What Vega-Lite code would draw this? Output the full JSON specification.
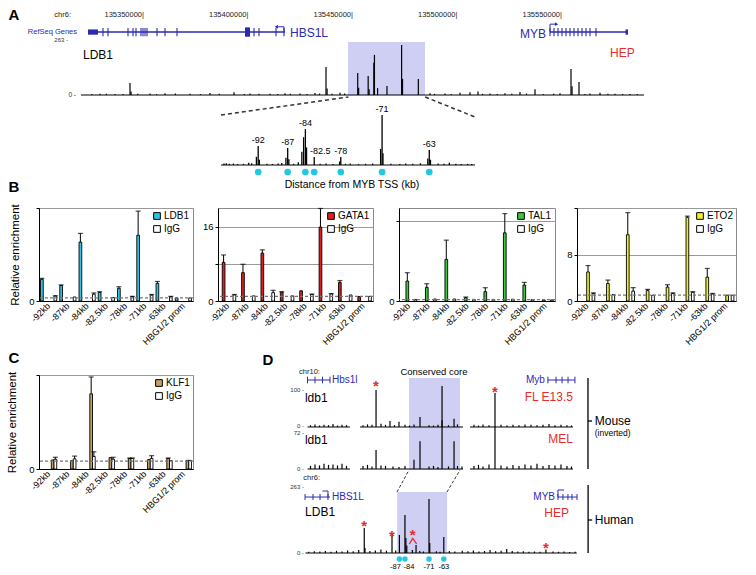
{
"$schema": "https://vega.github.io/schema/vega-lite/v6.json",
"background": "white",
"padding": 0,
"columns": 8,
"spacing": 0,
"bounds": "flush",
"align": "each",
"resolve": {"scale": {"color": "independent"}, "legend": {"color": "independent"}},
"config": {
 "font": "Liberation Sans",
 "view": {"stroke": "transparent"},
 "text": {"font": "Liberation Sans"},
 "scale": {"offsetBandPaddingInner": 0, "offsetBandPaddingOuter": 0}
},
"datasets": {
 "peaksA": [
  {"pos":135343301,"v":41},{"pos":135343800,"v":12},{"pos":135437082,"v":96},{"pos":135437600,"v":22},
  {"pos":135452258,"v":75},{"pos":135452700,"v":25},{"pos":135457258,"v":65},{"pos":135457700,"v":20},
  {"pos":135459958,"v":110},{"pos":135460258,"v":137},{"pos":135461758,"v":24},{"pos":135466258,"v":31},
  {"pos":135473258,"v":171},{"pos":135473700,"v":55},{"pos":135481258,"v":55},{"pos":135537081,"v":20},
  {"pos":135554306,"v":89},{"pos":135554800,"v":30},{"pos":135558134,"v":44},
  {"pos":135328947,"v":4},{"pos":135336124,"v":3},{"pos":135352871,"v":5},{"pos":135360048,"v":6},{"pos":135372010,"v":4},
  {"pos":135381579,"v":7},{"pos":135393062,"v":9},{"pos":135400718,"v":5},{"pos":135410287,"v":4},{"pos":135417464,"v":6},
  {"pos":135424641,"v":5},{"pos":135431818,"v":7},{"pos":135443780,"v":8},{"pos":135486842,"v":6},{"pos":135494019,"v":5},
  {"pos":135501196,"v":8},{"pos":135505981,"v":9},{"pos":135509809,"v":12},{"pos":135515550,"v":5},{"pos":135522727,"v":6},
  {"pos":135529904,"v":10},{"pos":135549043,"v":6},{"pos":135563397,"v":5},{"pos":135568182,"v":8},{"pos":135575359,"v":4},
  {"pos":135582536,"v":3},{"pos":135325000,"v":3},{"pos":135332000,"v":4},{"pos":135340000,"v":3},{"pos":135347000,"v":4},
  {"pos":135356000,"v":3},{"pos":135365000,"v":5},{"pos":135377000,"v":3},{"pos":135386000,"v":4},{"pos":135398000,"v":3},
  {"pos":135405000,"v":4},{"pos":135414000,"v":3},{"pos":135420000,"v":4},{"pos":135428000,"v":3},{"pos":135434000,"v":5},
  {"pos":135440000,"v":4},{"pos":135446000,"v":5},{"pos":135489000,"v":4},{"pos":135497000,"v":3},{"pos":135512000,"v":4},
  {"pos":135519000,"v":3},{"pos":135526000,"v":4},{"pos":135533000,"v":5},{"pos":135541000,"v":3},{"pos":135546000,"v":4},
  {"pos":135561000,"v":3},{"pos":135572000,"v":4},{"pos":135579000,"v":3},{"pos":135586000,"v":3}
 ],
 "ticksA": [{"pos":135350000,"lab":"135350000|"},{"pos":135400000,"lab":"135400000|"},{"pos":135450000,"lab":"135450000|"},{"pos":135500000,"lab":"135500000|"},{"pos":135550000,"lab":"135550000|"}],
 "peaksI": [
  {"kb":-92,"v":65,"lab":"-92"},{"kb":-87,"v":58,"lab":"-87"},{"kb":-84,"v":123,"lab":"-84"},{"kb":-82.5,"v":27,"lab":"-82.5"},
  {"kb":-78,"v":27,"lab":"-78"},{"kb":-71,"v":171,"lab":"-71"},{"kb":-63,"v":51,"lab":"-63"},
  {"kb":-92.3,"v":28},{"kb":-91.8,"v":18},{"kb":-87.3,"v":25},{"kb":-86.8,"v":20},{"kb":-84.3,"v":95},{"kb":-84.6,"v":45},
  {"kb":-83.8,"v":60},{"kb":-78.2,"v":12},{"kb":-71.25,"v":55},{"kb":-70.85,"v":40},{"kb":-63.25,"v":22},{"kb":-62.8,"v":18},
  {"kb":-97.8,"v":5},{"kb":-97.4,"v":6},{"kb":-96.9,"v":4},{"kb":-96.2,"v":5},{"kb":-95.5,"v":3},{"kb":-94.5,"v":4},
  {"kb":-93.6,"v":8},{"kb":-93.1,"v":6},{"kb":-90.5,"v":4},{"kb":-89.6,"v":3},{"kb":-88.6,"v":5},{"kb":-88,"v":7},
  {"kb":-86,"v":4},{"kb":-85.2,"v":9},{"kb":-81.5,"v":4},{"kb":-80.5,"v":5},{"kb":-79.3,"v":3},{"kb":-77.2,"v":4},
  {"kb":-76.4,"v":5},{"kb":-75,"v":3},{"kb":-73.8,"v":4},{"kb":-72.6,"v":5},{"kb":-69.5,"v":4},{"kb":-68,"v":3},
  {"kb":-67,"v":5},{"kb":-65.8,"v":4},{"kb":-64.5,"v":6},{"kb":-61.5,"v":5},{"kb":-60.5,"v":4},{"kb":-59.6,"v":8},
  {"kb":-58.5,"v":4},{"kb":-57.6,"v":3},{"kb":-56.5,"v":4},{"kb":-55.8,"v":3}
 ],
 "mouse1": [
  {"kb":-115.3,"v":100},{"kb":-106,"v":16},{"kb":-100,"v":14},{"kb":-86,"v":27},{"kb":-71.3,"v":111},{"kb":-63.3,"v":22},{"kb":-36,"v":92},
  {"kb":-159,"v":5},{"kb":-156,"v":7},{"kb":-153,"v":4},{"kb":-150,"v":6},{"kb":-147,"v":5},{"kb":-144,"v":8},{"kb":-141,"v":4},
  {"kb":-138,"v":6},{"kb":-135,"v":5},{"kb":-124,"v":5},{"kb":-121,"v":7},{"kb":-118,"v":6},{"kb":-112,"v":9},{"kb":-109,"v":6},
  {"kb":-103,"v":5},{"kb":-96,"v":6},{"kb":-93,"v":4},{"kb":-90,"v":7},{"kb":-80,"v":5},{"kb":-77,"v":4},{"kb":-74,"v":6},
  {"kb":-67,"v":5},{"kb":-61,"v":7},{"kb":-50,"v":6},{"kb":-47,"v":4},{"kb":-44,"v":7},{"kb":-40,"v":5},{"kb":-32,"v":6},
  {"kb":-28,"v":4},{"kb":-24,"v":6},{"kb":-20,"v":5},{"kb":-16,"v":7},{"kb":-12,"v":6},{"kb":-8,"v":5},{"kb":-4,"v":6},
  {"kb":0,"v":8},{"kb":4,"v":5},{"kb":8,"v":6},{"kb":12,"v":5},{"kb":15,"v":4}
 ],
 "mouse2": [
  {"kb":-115.3,"v":37},{"kb":-90,"v":18},{"kb":-86,"v":54},{"kb":-71.3,"v":95},{"kb":-63.3,"v":54},{"kb":-36,"v":82},
  {"kb":-159,"v":6},{"kb":-156,"v":9},{"kb":-153,"v":7},{"kb":-150,"v":10},{"kb":-147,"v":8},{"kb":-144,"v":9},{"kb":-141,"v":7},
  {"kb":-138,"v":10},{"kb":-135,"v":6},{"kb":-124,"v":6},{"kb":-121,"v":8},{"kb":-118,"v":5},{"kb":-112,"v":7},{"kb":-109,"v":6},
  {"kb":-104,"v":5},{"kb":-100,"v":4},{"kb":-96,"v":6},{"kb":-80,"v":5},{"kb":-77,"v":6},{"kb":-74,"v":4},{"kb":-67,"v":5},
  {"kb":-61,"v":6},{"kb":-58,"v":5},{"kb":-50,"v":6},{"kb":-47,"v":8},{"kb":-44,"v":5},{"kb":-40,"v":9},{"kb":-32,"v":7},
  {"kb":-28,"v":5},{"kb":-24,"v":8},{"kb":-20,"v":6},{"kb":-16,"v":9},{"kb":-12,"v":7},{"kb":-8,"v":10},{"kb":-4,"v":6},
  {"kb":0,"v":8},{"kb":4,"v":7},{"kb":8,"v":9},{"kb":12,"v":6},{"kb":15,"v":5}
 ],
 "human": [
  {"kb":-106,"v":100},{"kb":-105.6,"v":20},{"kb":-91,"v":72},{"kb":-87,"v":72},{"kb":-84,"v":151},{"kb":-83.5,"v":60},
  {"kb":-83,"v":30},{"kb":-78,"v":32},{"kb":-71,"v":215},{"kb":-70.6,"v":40},{"kb":-63,"v":64},{"kb":-7.8,"v":14},
  {"kb":-136,"v":5},{"kb":-133,"v":7},{"kb":-130,"v":6},{"kb":-127,"v":8},{"kb":-124,"v":5},{"kb":-121,"v":9},{"kb":-118,"v":6},
  {"kb":-115,"v":10},{"kb":-112,"v":7},{"kb":-109,"v":12},{"kb":-103,"v":8},{"kb":-100,"v":10},{"kb":-97,"v":14},{"kb":-94,"v":9},
  {"kb":-89,"v":10},{"kb":-80,"v":12},{"kb":-76,"v":8},{"kb":-74,"v":6},{"kb":-67,"v":7},{"kb":-65,"v":5},{"kb":-60,"v":8},
  {"kb":-57,"v":6},{"kb":-53,"v":9},{"kb":-50,"v":7},{"kb":-47,"v":10},{"kb":-44,"v":6},{"kb":-41,"v":8},{"kb":-38,"v":12},
  {"kb":-35,"v":7},{"kb":-32,"v":9},{"kb":-29,"v":16},{"kb":-26,"v":8},{"kb":-23,"v":6},{"kb":-20,"v":7},{"kb":-17,"v":5},
  {"kb":-14,"v":6},{"kb":-11,"v":5},{"kb":-4,"v":6},{"kb":-1,"v":5},{"kb":2,"v":6},{"kb":5,"v":4},{"kb":8,"v":5}
 ],
 "humanSites": [{"kb":-87,"lab":"-87"},{"kb":-84,"lab":"-84"},{"kb":-71,"lab":"-71"},{"kb":-63,"lab":"-63"}],
 "ldb1": [
  {"site":"-92kb","ab":"LDB1","v":7.0,"e":7.3},{"site":"-92kb","ab":"IgG","v":1.6,"e":1.7},
  {"site":"-87kb","ab":"LDB1","v":5.0,"e":5.2},{"site":"-87kb","ab":"IgG","v":1.3},
  {"site":"-84kb","ab":"LDB1","v":19.0,"e":21.8},{"site":"-84kb","ab":"IgG","v":2.2,"e":2.6},
  {"site":"-82.5kb","ab":"LDB1","v":2.8,"e":3.0},{"site":"-82.5kb","ab":"IgG","v":1.1},
  {"site":"-78kb","ab":"LDB1","v":4.1,"e":4.6},{"site":"-78kb","ab":"IgG","v":1.4,"e":1.5},
  {"site":"-71kb","ab":"LDB1","v":21.2,"e":29.0},{"site":"-71kb","ab":"IgG","v":1.9,"e":2.1},
  {"site":"-63kb","ab":"LDB1","v":5.7,"e":6.3},{"site":"-63kb","ab":"IgG","v":1.4,"e":1.5},
  {"site":"HBG1/2 prom","ab":"LDB1","v":1.0},{"site":"HBG1/2 prom","ab":"IgG","v":1.0}
 ],
 "gata1": [
  {"site":"-92kb","ab":"GATA1","v":8.3,"e":9.9},{"site":"-92kb","ab":"IgG","v":1.3,"e":1.4},
  {"site":"-87kb","ab":"GATA1","v":6.1,"e":7.9},{"site":"-87kb","ab":"IgG","v":1.1},
  {"site":"-84kb","ab":"GATA1","v":10.3,"e":11.0},{"site":"-84kb","ab":"IgG","v":1.8,"e":2.3},
  {"site":"-82.5kb","ab":"GATA1","v":1.9,"e":2.0},{"site":"-82.5kb","ab":"IgG","v":1.1},
  {"site":"-78kb","ab":"GATA1","v":2.2},{"site":"-78kb","ab":"IgG","v":1.4,"e":1.5},
  {"site":"-71kb","ab":"GATA1","v":15.9,"e":19.9},{"site":"-71kb","ab":"IgG","v":1.5,"e":1.6},
  {"site":"-63kb","ab":"GATA1","v":4.0,"e":4.4},{"site":"-63kb","ab":"IgG","v":1.3},
  {"site":"HBG1/2 prom","ab":"GATA1","v":0.95},{"site":"HBG1/2 prom","ab":"IgG","v":1.0}
 ],
 "tal1": [
  {"site":"-92kb","ab":"TAL1","v":15,"e":21.3},{"site":"-92kb","ab":"IgG","v":1.2},
  {"site":"-87kb","ab":"TAL1","v":10.3,"e":13},{"site":"-87kb","ab":"IgG","v":1.5},
  {"site":"-84kb","ab":"TAL1","v":31.3,"e":45.8},{"site":"-84kb","ab":"IgG","v":1.5},
  {"site":"-82.5kb","ab":"TAL1","v":2.5,"e":3.0},{"site":"-82.5kb","ab":"IgG","v":1.2},
  {"site":"-78kb","ab":"TAL1","v":7.0,"e":10},{"site":"-78kb","ab":"IgG","v":1.2},
  {"site":"-71kb","ab":"TAL1","v":51.3,"e":65.8},{"site":"-71kb","ab":"IgG","v":1.3},
  {"site":"-63kb","ab":"TAL1","v":12,"e":14},{"site":"-63kb","ab":"IgG","v":1.0},
  {"site":"HBG1/2 prom","ab":"TAL1","v":0.8},{"site":"HBG1/2 prom","ab":"IgG","v":0.8}
 ],
 "eto2": [
  {"site":"-92kb","ab":"ETO2","v":5.0,"e":6.1},{"site":"-92kb","ab":"IgG","v":1.3,"e":1.4},
  {"site":"-87kb","ab":"ETO2","v":3.0,"e":3.6},{"site":"-87kb","ab":"IgG","v":1.1},
  {"site":"-84kb","ab":"ETO2","v":11.4,"e":15.2},{"site":"-84kb","ab":"IgG","v":1.7,"e":2.3},
  {"site":"-82.5kb","ab":"ETO2","v":1.8,"e":2.0},{"site":"-82.5kb","ab":"IgG","v":1.0},
  {"site":"-78kb","ab":"ETO2","v":2.4,"e":2.8},{"site":"-78kb","ab":"IgG","v":1.3,"e":1.4},
  {"site":"-71kb","ab":"ETO2","v":14.4,"e":14.6},{"site":"-71kb","ab":"IgG","v":1.5,"e":1.6},
  {"site":"-63kb","ab":"ETO2","v":4.1,"e":5.6},{"site":"-63kb","ab":"IgG","v":1.2,"e":1.3},
  {"site":"HBG1/2 prom","ab":"ETO2","v":1.0},{"site":"HBG1/2 prom","ab":"IgG","v":1.0}
 ],
 "klf1": [
  {"site":"-92kb","ab":"KLF1","v":1.15},{"site":"-92kb","ab":"IgG","v":1.25,"e":1.5},
  {"site":"-87kb","ab":"KLF1","v":1.07},{"site":"-87kb","ab":"IgG","v":1.3,"e":1.65},
  {"site":"-84kb","ab":"KLF1","v":9.6,"e":11.75},{"site":"-84kb","ab":"IgG","v":1.6,"e":2.2},
  {"site":"-82.5kb","ab":"KLF1","v":1.45},{"site":"-82.5kb","ab":"IgG","v":1.25,"e":1.5},
  {"site":"-78kb","ab":"KLF1","v":1.35,"e":1.4},{"site":"-78kb","ab":"IgG","v":1.35,"e":1.4},
  {"site":"-71kb","ab":"KLF1","v":1.2},{"site":"-71kb","ab":"IgG","v":1.35,"e":1.7},
  {"site":"-63kb","ab":"KLF1","v":1.35,"e":1.4},{"site":"-63kb","ab":"IgG","v":1.07},
  {"site":"HBG1/2 prom","ab":"KLF1","v":1.1},{"site":"HBG1/2 prom","ab":"IgG","v":1.1}
 ]
},
"concat": [
 {"width": 28, "height": 18, "data": {"values": [{"t": "A"}]}, "mark": {"type": "text", "fontSize": 15, "fontWeight": "bold", "dy": 6, "color": "black"}, "encoding": {"text": {"field": "t"}}},
 {"width":1,"height":18,"data":{"values":[{}]},"mark":"text","encoding":{"text":{"value":""}}},
 {"width":1,"height":18,"data":{"values":[{}]},"mark":"text","encoding":{"text":{"value":""}}},
 {"width":1,"height":18,"data":{"values":[{}]},"mark":"text","encoding":{"text":{"value":""}}},
 {"width":1,"height":18,"data":{"values":[{}]},"mark":"text","encoding":{"text":{"value":""}}},
 {"width":1,"height":18,"data":{"values":[{}]},"mark":"text","encoding":{"text":{"value":""}}},
 {"width":1,"height":18,"data":{"values":[{}]},"mark":"text","encoding":{"text":{"value":""}}},
 {"width":1,"height":18,"data":{"values":[{}]},"mark":"text","encoding":{"text":{"value":""}}},

 {"width":39,"height":77,"data":{"values":[{}]},"mark":"text","encoding":{"text":{"value":""}}},
 {"width": 154, "height": 77,
  "layer": [
   {"data": {"values": [{}]}, "mark": {"type": "rect", "color": "#CFCFF4"},
    "encoding": {
     "x": {"datum": 135447608, "type": "quantitative", "scale": {"domain": [135299761, 135373445], "nice": false, "zero": false}, "axis": null},
     "x2": {"datum": 135484450},
     "y": {"datum": 0, "type": "quantitative", "scale": {"domain": [0, 263], "nice": false, "zero": false}, "axis": null},
     "y2": {"datum": 181}}},
   {"data": {"values": [{}]}, "mark": {"type": "rule", "color": "black", "strokeWidth": 1},
    "encoding": {"x": {"datum": 135319856, "type": "quantitative", "axis": null}, "x2": {"datum": 135589234}, "y": {"datum": 0, "type": "quantitative", "axis": null}}},
   {"data": {"name": "peaksA"}, "mark": {"type": "rule", "color": "black", "strokeWidth": 1.2},
    "encoding": {"x": {"field": "pos", "type": "quantitative", "axis": null}, "y": {"field": "v", "type": "quantitative", "axis": null}, "y2": {"datum": 0}}},
   {"data": {"name": "ticksA"}, "mark": {"type": "text", "align": "right", "fontSize": 7.5, "color": "#222"},
    "encoding": {"x": {"field": "pos", "type": "quantitative", "axis": null}, "y": {"datum": 273, "type": "quantitative", "axis": null}, "text": {"field": "lab"}}},
   {"data": {"values": [{"s":135323206,"e":135417464},{"s":135544258,"e":135581580}]}, "mark": {"type": "rule", "color": "#2B2BB0", "strokeWidth": 1.5},
    "encoding": {"x": {"field": "s", "type": "quantitative", "axis": null}, "x2": {"field": "e"}, "y": {"datum": 215, "type": "quantitative", "axis": null}}},
   {"data": {"values": [{"pos":135330383},{"pos":135332775},{"pos":135342344},{"pos":135344737},{"pos":135346172},{"pos":135348565},{"pos":135349522},{"pos":135350478},{"pos":135351435},{"pos":135356220},{"pos":135360048},{"pos":135365789},{"pos":135402632},{"pos":135405024},{"pos":135413158},{"pos":135416986},{"pos":135544258},{"pos":135546172},{"pos":135548086},{"pos":135550000},{"pos":135551914},{"pos":135553828},{"pos":135555742},{"pos":135557656},{"pos":135559569},{"pos":135561483},{"pos":135563397},{"pos":135566268}]},
    "mark": {"type": "rule", "color": "#2B2BB0", "strokeWidth": 1.1},
    "encoding": {"x": {"field": "pos", "type": "quantitative", "axis": null}, "y": {"datum": 201, "type": "quantitative", "axis": null}, "y2": {"datum": 229}}},
   {"data": {"values": [{"s":135323206,"e":135327990},{"s":135580400,"e":135581580}]}, "mark": {"type": "rect", "color": "#2B2BB0"},
    "encoding": {"x": {"field": "s", "type": "quantitative", "axis": null}, "x2": {"field": "e"}, "y": {"datum": 206, "type": "quantitative", "axis": null}, "y2": {"datum": 224}}},
   {"data": {"values": [{"s":135398325,"e":135400718}]}, "mark": {"type": "rect", "color": "#2B2BB0"},
    "encoding": {"x": {"field": "s", "type": "quantitative", "axis": null}, "x2": {"field": "e"}, "y": {"datum": 199, "type": "quantitative", "axis": null}, "y2": {"datum": 231}}},
   {"data": {"values": [{}]}, "mark": {"type": "rule", "color": "#2B2BB0", "strokeWidth": 1},
    "encoding": {"x": {"datum": 135416986, "type": "quantitative", "axis": null}, "y": {"datum": 215, "type": "quantitative", "axis": null}, "y2": {"datum": 233}}},
   {"data": {"values": [{}]}, "mark": {"type": "rule", "color": "#2B2BB0", "strokeWidth": 1},
    "encoding": {"x": {"datum": 135416986, "type": "quantitative", "axis": null}, "x2": {"datum": 135414000}, "y": {"datum": 233, "type": "quantitative", "axis": null}}},
   {"data": {"values": [{}]}, "mark": {"type": "point", "shape": "triangle-left", "filled": true, "size": 14, "color": "#2B2BB0", "opacity": 1},
    "encoding": {"x": {"datum": 135413300, "type": "quantitative", "axis": null}, "y": {"datum": 233, "type": "quantitative", "axis": null}}},
   {"data": {"values": [{}]}, "mark": {"type": "rule", "color": "#2B2BB0", "strokeWidth": 1},
    "encoding": {"x": {"datum": 135544258, "type": "quantitative", "axis": null}, "y": {"datum": 215, "type": "quantitative", "axis": null}, "y2": {"datum": 242}}},
   {"data": {"values": [{}]}, "mark": {"type": "rule", "color": "#2B2BB0", "strokeWidth": 1},
    "encoding": {"x": {"datum": 135544258, "type": "quantitative", "axis": null}, "x2": {"datum": 135546800}, "y": {"datum": 242, "type": "quantitative", "axis": null}}},
   {"data": {"values": [{}]}, "mark": {"type": "point", "shape": "triangle-right", "filled": true, "size": 14, "color": "#2B2BB0", "opacity": 1},
    "encoding": {"x": {"datum": 135547400, "type": "quantitative", "axis": null}, "y": {"datum": 242, "type": "quantitative", "axis": null}}},
   {"data": {"values": [{}]}, "mark": {"type": "text", "align": "right", "fontSize": 7.5, "color": "#222"},
    "encoding": {"x": {"datum": 135315072, "type": "quantitative", "axis": null}, "y": {"datum": 273, "type": "quantitative", "axis": null}, "text": {"value": "chr6:"}}},
   {"data": {"values": [{}]}, "mark": {"type": "text", "align": "right", "fontSize": 6, "color": "#333"},
    "encoding": {"x": {"datum": 135313636, "type": "quantitative", "axis": null}, "y": {"datum": 189, "type": "quantitative", "axis": null}, "text": {"value": "263 -"}}},
   {"data": {"values": [{}]}, "mark": {"type": "text", "align": "right", "fontSize": 6.5, "color": "#333"},
    "encoding": {"x": {"datum": 135317464, "type": "quantitative", "axis": null}, "y": {"datum": 0, "type": "quantitative", "axis": null}, "text": {"value": "0 -"}}},
   {"data": {"values": [{}]}, "mark": {"type": "text", "align": "right", "fontSize": 7.5, "color": "#2B2BB0"},
    "encoding": {"x": {"datum": 135317942, "type": "quantitative", "axis": null}, "y": {"datum": 216, "type": "quantitative", "axis": null}, "text": {"value": "RefSeq Genes"}}},
   {"data": {"values": [{}]}, "mark": {"type": "text", "align": "left", "fontSize": 12, "color": "black"},
    "encoding": {"x": {"datum": 135320813, "type": "quantitative", "axis": null}, "y": {"datum": 136, "type": "quantitative", "axis": null}, "text": {"value": "LDB1"}}},
   {"data": {"values": [{}]}, "mark": {"type": "text", "align": "left", "fontSize": 12, "color": "#E32D2D"},
    "encoding": {"x": {"datum": 135572967, "type": "quantitative", "axis": null}, "y": {"datum": 143, "type": "quantitative", "axis": null}, "text": {"value": "HEP"}}},
   {"data": {"values": [{}]}, "mark": {"type": "text", "align": "left", "fontSize": 12, "color": "#2B2BB0"},
    "encoding": {"x": {"datum": 135419856, "type": "quantitative", "axis": null}, "y": {"datum": 212, "type": "quantitative", "axis": null}, "text": {"value": "HBS1L"}}},
   {"data": {"values": [{}]}, "mark": {"type": "text", "align": "right", "fontSize": 12, "color": "#2B2BB0"},
    "encoding": {"x": {"datum": 135542345, "type": "quantitative", "axis": null}, "y": {"datum": 208, "type": "quantitative", "axis": null}, "text": {"value": "MYB"}}}
  ]},
 {"width":1,"height":1,"data":{"values":[{}]},"mark":"text","encoding":{"text":{"value":""}}},
 {"width":1,"height":1,"data":{"values":[{}]},"mark":"text","encoding":{"text":{"value":""}}},
 {"width":1,"height":1,"data":{"values":[{}]},"mark":"text","encoding":{"text":{"value":""}}},
 {"width":1,"height":1,"data":{"values":[{}]},"mark":"text","encoding":{"text":{"value":""}}},
 {"width":1,"height":1,"data":{"values":[{}]},"mark":"text","encoding":{"text":{"value":""}}},
 {"width":1,"height":1,"data":{"values":[{}]},"mark":"text","encoding":{"text":{"value":""}}},

 {"width":39,"height":80,"data":{"values":[{}]},"mark":"text","encoding":{"text":{"value":""}}},
 {"width":1,"height":1,"data":{"values":[{}]},"mark":"text","encoding":{"text":{"value":""}}},
 {"width":1,"height":1,"data":{"values":[{}]},"mark":"text","encoding":{"text":{"value":""}}},
 {"width": 155, "height": 80,
  "layer": [
   {"data": {"values": [{}]}, "mark": {"type": "rule", "strokeDash": [4, 3], "strokeWidth": 1.5, "color": "#333"},
    "encoding": {"x": {"datum": -98.3, "type": "quantitative", "scale": {"domain": [-98.81, -72.54], "nice": false, "zero": false}, "axis": null},
     "x2": {"datum": -76.7},
     "y": {"datum": 171, "type": "quantitative", "scale": {"domain": [-34.2, 239.4], "nice": false, "zero": false}, "axis": null},
     "y2": {"datum": 232.6}}},
   {"data": {"values": [{}]}, "mark": {"type": "rule", "strokeDash": [4, 3], "strokeWidth": 1.5, "color": "#333"},
    "encoding": {"x": {"datum": -63.7, "type": "quantitative", "axis": null}, "x2": {"datum": -55.25}, "y": {"datum": 232.6, "type": "quantitative", "axis": null}, "y2": {"datum": 164}}},
   {"data": {"values": [{}]}, "mark": {"type": "rule", "color": "black", "strokeWidth": 1},
    "encoding": {"x": {"datum": -98.3, "type": "quantitative", "axis": null}, "x2": {"datum": -55.25}, "y": {"datum": 0, "type": "quantitative", "axis": null}}},
   {"data": {"name": "peaksI"}, "mark": {"type": "rule", "color": "black", "strokeWidth": 1.3},
    "encoding": {"x": {"field": "kb", "type": "quantitative", "axis": null}, "y": {"field": "v", "type": "quantitative", "axis": null}, "y2": {"datum": 0}}},
   {"data": {"name": "peaksI"}, "transform": [{"filter": "datum.lab != null && datum.lab != '-82.5'"}],
    "mark": {"type": "text", "baseline": "bottom", "dy": -1, "fontSize": 9, "color": "black"},
    "encoding": {"x": {"field": "kb", "type": "quantitative", "axis": null}, "y": {"field": "v", "type": "quantitative", "axis": null}, "text": {"field": "lab"}}},
   {"data": {"name": "peaksI"}, "transform": [{"filter": "datum.lab == '-82.5'"}],
    "mark": {"type": "text", "baseline": "bottom", "dx": 6, "dy": -1, "fontSize": 9, "color": "black"},
    "encoding": {"x": {"field": "kb", "type": "quantitative", "axis": null}, "y": {"field": "v", "type": "quantitative", "axis": null}, "text": {"field": "lab"}}},
   {"data": {"name": "peaksI"}, "transform": [{"filter": "datum.lab != null"}],
    "mark": {"type": "point", "filled": true, "size": 45, "color": "#22C6E6", "opacity": 1},
    "encoding": {"x": {"field": "kb", "type": "quantitative", "axis": null}, "y": {"datum": -24, "type": "quantitative", "axis": null}}},
   {"data": {"values": [{}]}, "mark": {"type": "text", "fontSize": 10.5, "color": "black"},
    "encoding": {"x": {"datum": -76.1, "type": "quantitative", "axis": null}, "y": {"datum": -68.4, "type": "quantitative", "axis": null}, "text": {"value": "Distance from MYB TSS (kb)"}}}
  ]},
 {"width":1,"height":1,"data":{"values":[{}]},"mark":"text","encoding":{"text":{"value":""}}},
 {"width":1,"height":1,"data":{"values":[{}]},"mark":"text","encoding":{"text":{"value":""}}},
 {"width":1,"height":1,"data":{"values":[{}]},"mark":"text","encoding":{"text":{"value":""}}},
 {"width":1,"height":1,"data":{"values":[{}]},"mark":"text","encoding":{"text":{"value":""}}},

 {"width": 28, "height": 33, "data": {"values": [{"t": "B"}]}, "mark": {"type": "text", "fontSize": 15, "fontWeight": "bold", "dy": -4.5, "color": "black"}, "encoding": {"text": {"field": "t"}}},
 {"width":1,"height":1,"data":{"values":[{}]},"mark":"text","encoding":{"text":{"value":""}}},
 {"width":1,"height":1,"data":{"values":[{}]},"mark":"text","encoding":{"text":{"value":""}}},
 {"width":1,"height":1,"data":{"values":[{}]},"mark":"text","encoding":{"text":{"value":""}}},
 {"width":1,"height":1,"data":{"values":[{}]},"mark":"text","encoding":{"text":{"value":""}}},
 {"width":1,"height":1,"data":{"values":[{}]},"mark":"text","encoding":{"text":{"value":""}}},
 {"width":1,"height":1,"data":{"values":[{}]},"mark":"text","encoding":{"text":{"value":""}}},
 {"width":1,"height":1,"data":{"values":[{}]},"mark":"text","encoding":{"text":{"value":""}}},

 {"width":39,"height":93,"data":{"values":[{}]},"mark":"text","encoding":{"text":{"value":""}}},
 {"width": 154, "height": 93, "view": {"stroke": "#8a8a8a"}, "data": {"name": "ldb1"},
  "layer": [
   {"mark": {"type": "bar", "stroke": "black", "strokeWidth": 0.9, "width": {"band": 1}},
    "encoding": {
     "x": {"field": "site", "type": "nominal", "sort": ["-92kb","-87kb","-84kb","-82.5kb","-78kb","-71kb","-63kb","HBG1/2 prom"], "scale": {"type": "band", "paddingInner": 0.16, "paddingOuter": 0.08},
       "axis": {"title": null, "labelAngle": -45, "labelAlign": "right", "labelBaseline": "middle", "labelPadding": 3, "ticks": false, "labelFontSize": 9, "labelColor": "black", "domainColor": "black", "labelLimit": 0, "labelFont": "Liberation Sans"}},
     "xOffset": {"field": "ab", "type": "nominal", "sort": ["LDB1","IgG"], "scale": {"type": "band", "paddingInner": 0, "paddingOuter": 0}},
     "y": {"field": "v", "type": "quantitative", "scale": {"domain": [0, 30], "nice": false},
       "axis": {"title": "Relative enrichment", "values": [0,10,20,30], "labelExpr": "datum.value == 0 || datum.value == 20 ? datum.label : ''", "grid": true, "gridColor": "#9a9a9a", "tickSize": 3, "domainColor": "black", "tickColor": "black", "labelColor": "black", "labelFontSize": 9.5, "labelPadding": 2, "titleFontSize": 11.5, "titleFontWeight": "normal", "titleColor": "black", "titlePadding": 8, "labelFont": "Liberation Sans", "titleFont": "Liberation Sans"}},
     "color": {"field": "ab", "type": "nominal", "scale": {"domain": ["LDB1","IgG"], "range": ["#2EC6E6","#ffffff"]},
       "legend": {"title": null, "orient": "top-right", "offset": 3, "padding": 0, "symbolType": "square", "symbolSize": 45, "symbolStrokeColor": "black", "symbolStrokeWidth": 1, "labelFontSize": 10, "labelOffset": 2, "rowPadding": 1}}}},
   {"transform": [{"filter": "datum.e != null"}], "mark": {"type": "rule", "color": "black", "strokeWidth": 1},
    "encoding": {"x": {"field": "site", "type": "nominal", "sort": ["-92kb","-87kb","-84kb","-82.5kb","-78kb","-71kb","-63kb","HBG1/2 prom"], "scale": {"type": "band", "paddingInner": 0.16, "paddingOuter": 0.08}}, "xOffset": {"field": "ab", "type": "nominal", "sort": ["LDB1","IgG"], "scale": {"type": "band", "paddingInner": 0, "paddingOuter": 0}}, "y": {"field": "v", "type": "quantitative"}, "y2": {"field": "e"}}},
   {"transform": [{"filter": "datum.e != null"}], "mark": {"type": "tick", "color": "black", "thickness": 1.2, "size": 5},
    "encoding": {"x": {"field": "site", "type": "nominal", "sort": ["-92kb","-87kb","-84kb","-82.5kb","-78kb","-71kb","-63kb","HBG1/2 prom"], "scale": {"type": "band", "paddingInner": 0.16, "paddingOuter": 0.08}}, "xOffset": {"field": "ab", "type": "nominal", "sort": ["LDB1","IgG"], "scale": {"type": "band", "paddingInner": 0, "paddingOuter": 0}}, "y": {"field": "e", "type": "quantitative"}}},
   {"data": {"values": [{}]}, "mark": {"type": "rule", "color": "#777", "strokeDash": [3, 2], "strokeWidth": 1.2}, "encoding": {"y": {"datum": 1, "type": "quantitative"}}}
  ]},
 {"width":25,"height":1,"data":{"values":[{}]},"mark":"text","encoding":{"text":{"value":""}}},
 {"width": 155, "height": 93, "view": {"stroke": "#8a8a8a"}, "data": {"name": "gata1"},
  "layer": [
   {"mark": {"type": "bar", "stroke": "black", "strokeWidth": 0.9, "width": {"band": 1}},
    "encoding": {
     "x": {"field": "site", "type": "nominal", "sort": ["-92kb","-87kb","-84kb","-82.5kb","-78kb","-71kb","-63kb","HBG1/2 prom"], "scale": {"type": "band", "paddingInner": 0.16, "paddingOuter": 0.08},
       "axis": {"title": null, "labelAngle": -45, "labelAlign": "right", "labelBaseline": "middle", "labelPadding": 3, "ticks": false, "labelFontSize": 9, "labelColor": "black", "domainColor": "black", "labelLimit": 0, "labelFont": "Liberation Sans"}},
     "xOffset": {"field": "ab", "type": "nominal", "sort": ["GATA1","IgG"], "scale": {"type": "band", "paddingInner": 0, "paddingOuter": 0}},
     "y": {"field": "v", "type": "quantitative", "scale": {"domain": [0, 20], "nice": false},
       "axis": {"title": null, "values": [0,8,16], "labelExpr": "datum.value == 0 || datum.value == 16 ? datum.label : ''", "grid": true, "gridColor": "#9a9a9a", "tickSize": 3, "domainColor": "black", "tickColor": "black", "labelColor": "black", "labelFontSize": 9.5, "labelPadding": 2, "labelFont": "Liberation Sans"}},
     "color": {"field": "ab", "type": "nominal", "scale": {"domain": ["GATA1","IgG"], "range": ["#E01E1E","#ffffff"]},
       "legend": {"title": null, "orient": "top-right", "offset": 3, "padding": 0, "symbolType": "square", "symbolSize": 45, "symbolStrokeColor": "black", "symbolStrokeWidth": 1, "labelFontSize": 10, "labelOffset": 2, "rowPadding": 1}}}},
   {"transform": [{"filter": "datum.e != null"}], "mark": {"type": "rule", "color": "black", "strokeWidth": 1},
    "encoding": {"x": {"field": "site", "type": "nominal", "sort": ["-92kb","-87kb","-84kb","-82.5kb","-78kb","-71kb","-63kb","HBG1/2 prom"], "scale": {"type": "band", "paddingInner": 0.16, "paddingOuter": 0.08}}, "xOffset": {"field": "ab", "type": "nominal", "sort": ["GATA1","IgG"], "scale": {"type": "band", "paddingInner": 0, "paddingOuter": 0}}, "y": {"field": "v", "type": "quantitative"}, "y2": {"field": "e"}}},
   {"transform": [{"filter": "datum.e != null"}], "mark": {"type": "tick", "color": "black", "thickness": 1.2, "size": 5},
    "encoding": {"x": {"field": "site", "type": "nominal", "sort": ["-92kb","-87kb","-84kb","-82.5kb","-78kb","-71kb","-63kb","HBG1/2 prom"], "scale": {"type": "band", "paddingInner": 0.16, "paddingOuter": 0.08}}, "xOffset": {"field": "ab", "type": "nominal", "sort": ["GATA1","IgG"], "scale": {"type": "band", "paddingInner": 0, "paddingOuter": 0}}, "y": {"field": "e", "type": "quantitative"}}},
   {"data": {"values": [{}]}, "mark": {"type": "rule", "color": "#777", "strokeDash": [3, 2], "strokeWidth": 1.2}, "encoding": {"y": {"datum": 1, "type": "quantitative"}}}
  ]},
 {"width":26,"height":1,"data":{"values":[{}]},"mark":"text","encoding":{"text":{"value":""}}},
 {"width": 156, "height": 93, "view": {"stroke": "#8a8a8a"}, "data": {"name": "tal1"},
  "layer": [
   {"mark": {"type": "bar", "stroke": "black", "strokeWidth": 0.9, "width": {"band": 1}},
    "encoding": {
     "x": {"field": "site", "type": "nominal", "sort": ["-92kb","-87kb","-84kb","-82.5kb","-78kb","-71kb","-63kb","HBG1/2 prom"], "scale": {"type": "band", "paddingInner": 0.16, "paddingOuter": 0.08},
       "axis": {"title": null, "labelAngle": -45, "labelAlign": "right", "labelBaseline": "middle", "labelPadding": 3, "ticks": false, "labelFontSize": 9, "labelColor": "black", "domainColor": "black", "labelLimit": 0, "labelFont": "Liberation Sans"}},
     "xOffset": {"field": "ab", "type": "nominal", "sort": ["TAL1","IgG"], "scale": {"type": "band", "paddingInner": 0, "paddingOuter": 0}},
     "y": {"field": "v", "type": "quantitative", "scale": {"domain": [0, 70], "nice": false},
       "axis": {"title": null, "values": [0,20,40,60], "labelExpr": "datum.value == 0 || datum.value == 40 ? datum.label : ''", "grid": true, "gridColor": "#9a9a9a", "tickSize": 3, "domainColor": "black", "tickColor": "black", "labelColor": "black", "labelFontSize": 9.5, "labelPadding": 2, "labelFont": "Liberation Sans"}},
     "color": {"field": "ab", "type": "nominal", "scale": {"domain": ["TAL1","IgG"], "range": ["#3CC83C","#ffffff"]},
       "legend": {"title": null, "orient": "top-right", "offset": 3, "padding": 0, "symbolType": "square", "symbolSize": 45, "symbolStrokeColor": "black", "symbolStrokeWidth": 1, "labelFontSize": 10, "labelOffset": 2, "rowPadding": 1}}}},
   {"transform": [{"filter": "datum.e != null"}], "mark": {"type": "rule", "color": "black", "strokeWidth": 1},
    "encoding": {"x": {"field": "site", "type": "nominal", "sort": ["-92kb","-87kb","-84kb","-82.5kb","-78kb","-71kb","-63kb","HBG1/2 prom"], "scale": {"type": "band", "paddingInner": 0.16, "paddingOuter": 0.08}}, "xOffset": {"field": "ab", "type": "nominal", "sort": ["TAL1","IgG"], "scale": {"type": "band", "paddingInner": 0, "paddingOuter": 0}}, "y": {"field": "v", "type": "quantitative"}, "y2": {"field": "e"}}},
   {"transform": [{"filter": "datum.e != null"}], "mark": {"type": "tick", "color": "black", "thickness": 1.2, "size": 5},
    "encoding": {"x": {"field": "site", "type": "nominal", "sort": ["-92kb","-87kb","-84kb","-82.5kb","-78kb","-71kb","-63kb","HBG1/2 prom"], "scale": {"type": "band", "paddingInner": 0.16, "paddingOuter": 0.08}}, "xOffset": {"field": "ab", "type": "nominal", "sort": ["TAL1","IgG"], "scale": {"type": "band", "paddingInner": 0, "paddingOuter": 0}}, "y": {"field": "e", "type": "quantitative"}}},
   {"data": {"values": [{}]}, "mark": {"type": "rule", "color": "#777", "strokeDash": [3, 2], "strokeWidth": 1.2}, "encoding": {"y": {"datum": 1, "type": "quantitative"}}}
  ]},
 {"width":22,"height":1,"data":{"values":[{}]},"mark":"text","encoding":{"text":{"value":""}}},
 {"width": 159, "height": 93, "view": {"stroke": "#8a8a8a"}, "data": {"name": "eto2"},
  "layer": [
   {"mark": {"type": "bar", "stroke": "black", "strokeWidth": 0.9, "width": {"band": 1}},
    "encoding": {
     "x": {"field": "site", "type": "nominal", "sort": ["-92kb","-87kb","-84kb","-82.5kb","-78kb","-71kb","-63kb","HBG1/2 prom"], "scale": {"type": "band", "paddingInner": 0.16, "paddingOuter": 0.08},
       "axis": {"title": null, "labelAngle": -45, "labelAlign": "right", "labelBaseline": "middle", "labelPadding": 3, "ticks": false, "labelFontSize": 9, "labelColor": "black", "domainColor": "black", "labelLimit": 0, "labelFont": "Liberation Sans"}},
     "xOffset": {"field": "ab", "type": "nominal", "sort": ["ETO2","IgG"], "scale": {"type": "band", "paddingInner": 0, "paddingOuter": 0}},
     "y": {"field": "v", "type": "quantitative", "scale": {"domain": [0, 16], "nice": false},
       "axis": {"title": null, "values": [0,8,16], "labelExpr": "datum.value == 0 || datum.value == 8 ? datum.label : ''", "grid": true, "gridColor": "#9a9a9a", "tickSize": 3, "domainColor": "black", "tickColor": "black", "labelColor": "black", "labelFontSize": 9.5, "labelPadding": 2, "labelFont": "Liberation Sans"}},
     "color": {"field": "ab", "type": "nominal", "scale": {"domain": ["ETO2","IgG"], "range": ["#F0F022","#ffffff"]},
       "legend": {"title": null, "orient": "top-right", "offset": 3, "padding": 0, "symbolType": "square", "symbolSize": 45, "symbolStrokeColor": "black", "symbolStrokeWidth": 1, "labelFontSize": 10, "labelOffset": 2, "rowPadding": 1}}}},
   {"transform": [{"filter": "datum.e != null"}], "mark": {"type": "rule", "color": "black", "strokeWidth": 1},
    "encoding": {"x": {"field": "site", "type": "nominal", "sort": ["-92kb","-87kb","-84kb","-82.5kb","-78kb","-71kb","-63kb","HBG1/2 prom"], "scale": {"type": "band", "paddingInner": 0.16, "paddingOuter": 0.08}}, "xOffset": {"field": "ab", "type": "nominal", "sort": ["ETO2","IgG"], "scale": {"type": "band", "paddingInner": 0, "paddingOuter": 0}}, "y": {"field": "v", "type": "quantitative"}, "y2": {"field": "e"}}},
   {"transform": [{"filter": "datum.e != null"}], "mark": {"type": "tick", "color": "black", "thickness": 1.2, "size": 5},
    "encoding": {"x": {"field": "site", "type": "nominal", "sort": ["-92kb","-87kb","-84kb","-82.5kb","-78kb","-71kb","-63kb","HBG1/2 prom"], "scale": {"type": "band", "paddingInner": 0.16, "paddingOuter": 0.08}}, "xOffset": {"field": "ab", "type": "nominal", "sort": ["ETO2","IgG"], "scale": {"type": "band", "paddingInner": 0, "paddingOuter": 0}}, "y": {"field": "e", "type": "quantitative"}}},
   {"data": {"values": [{}]}, "mark": {"type": "rule", "color": "#777", "strokeDash": [3, 2], "strokeWidth": 1.2}, "encoding": {"y": {"datum": 1, "type": "quantitative"}}}
  ]},

 {"width": 28, "height": 74, "data": {"values": [{"t": "C"}]}, "mark": {"type": "text", "fontSize": 15, "fontWeight": "bold", "dy": 20, "color": "black"}, "encoding": {"text": {"field": "t"}}},
 {"width":1,"height":1,"data":{"values":[{}]},"mark":"text","encoding":{"text":{"value":""}}},
 {"width":1,"height":1,"data":{"values":[{}]},"mark":"text","encoding":{"text":{"value":""}}},
 {"width": 100, "height": 74, "data": {"values": [{"t": "D"}]}, "mark": {"type": "text", "fontSize": 15, "fontWeight": "bold", "dy": 22, "color": "black"}, "encoding": {"text": {"field": "t"}}},
 {"width":1,"height":1,"data":{"values":[{}]},"mark":"text","encoding":{"text":{"value":""}}},
 {"width":1,"height":1,"data":{"values":[{}]},"mark":"text","encoding":{"text":{"value":""}}},
 {"width":1,"height":1,"data":{"values":[{}]},"mark":"text","encoding":{"text":{"value":""}}},
 {"width":1,"height":1,"data":{"values":[{}]},"mark":"text","encoding":{"text":{"value":""}}},

 {"width":39,"height":1,"data":{"values":[{}]},"mark":"text","encoding":{"text":{"value":""}}},
 {"width": 154, "height": 94, "view": {"stroke": "#8a8a8a"}, "data": {"name": "klf1"},
  "layer": [
   {"mark": {"type": "bar", "stroke": "black", "strokeWidth": 0.9, "width": {"band": 1}},
    "encoding": {
     "x": {"field": "site", "type": "nominal", "sort": ["-92kb","-87kb","-84kb","-82.5kb","-78kb","-71kb","-63kb","HBG1/2 prom"], "scale": {"type": "band", "paddingInner": 0.16, "paddingOuter": 0.08},
       "axis": {"title": null, "labelAngle": -45, "labelAlign": "right", "labelBaseline": "middle", "labelPadding": 3, "ticks": false, "labelFontSize": 9, "labelColor": "black", "domainColor": "black", "labelLimit": 0, "labelFont": "Liberation Sans"}},
     "xOffset": {"field": "ab", "type": "nominal", "sort": ["KLF1","IgG"], "scale": {"type": "band", "paddingInner": 0, "paddingOuter": 0}},
     "y": {"field": "v", "type": "quantitative", "scale": {"domain": [0, 12], "nice": false},
       "axis": {"title": "Relative enrichment", "values": [0,4,8,12], "labelExpr": "datum.value == 0 || datum.value == 8 ? datum.label : ''", "grid": true, "gridColor": "#9a9a9a", "tickSize": 3, "domainColor": "black", "tickColor": "black", "labelColor": "black", "labelFontSize": 9.5, "labelPadding": 2, "titleFontSize": 11.5, "titleFontWeight": "normal", "titleColor": "black", "titlePadding": 11, "labelFont": "Liberation Sans", "titleFont": "Liberation Sans"}},
     "color": {"field": "ab", "type": "nominal", "scale": {"domain": ["KLF1","IgG"], "range": ["#C8A064","#ffffff"]},
       "legend": {"title": null, "orient": "top-right", "offset": 3, "padding": 0, "symbolType": "square", "symbolSize": 45, "symbolStrokeColor": "black", "symbolStrokeWidth": 1, "labelFontSize": 10, "labelOffset": 2, "rowPadding": 1}}}},
   {"transform": [{"filter": "datum.e != null"}], "mark": {"type": "rule", "color": "black", "strokeWidth": 1},
    "encoding": {"x": {"field": "site", "type": "nominal", "sort": ["-92kb","-87kb","-84kb","-82.5kb","-78kb","-71kb","-63kb","HBG1/2 prom"], "scale": {"type": "band", "paddingInner": 0.16, "paddingOuter": 0.08}}, "xOffset": {"field": "ab", "type": "nominal", "sort": ["KLF1","IgG"], "scale": {"type": "band", "paddingInner": 0, "paddingOuter": 0}}, "y": {"field": "v", "type": "quantitative"}, "y2": {"field": "e"}}},
   {"transform": [{"filter": "datum.e != null"}], "mark": {"type": "tick", "color": "black", "thickness": 1.2, "size": 5},
    "encoding": {"x": {"field": "site", "type": "nominal", "sort": ["-92kb","-87kb","-84kb","-82.5kb","-78kb","-71kb","-63kb","HBG1/2 prom"], "scale": {"type": "band", "paddingInner": 0.16, "paddingOuter": 0.08}}, "xOffset": {"field": "ab", "type": "nominal", "sort": ["KLF1","IgG"], "scale": {"type": "band", "paddingInner": 0, "paddingOuter": 0}}, "y": {"field": "e", "type": "quantitative"}}},
   {"data": {"values": [{}]}, "mark": {"type": "rule", "color": "#777", "strokeDash": [3, 2], "strokeWidth": 1.2}, "encoding": {"y": {"datum": 1, "type": "quantitative"}}}
  ]},
 {"width":25,"height":1,"data":{"values":[{}]},"mark":"text","encoding":{"text":{"value":""}}},
 {"width": 155, "height": 197,
  "resolve": {"scale": {"x": "independent", "y": "independent"}},
  "layer": [
   {"layer": [
     {"data": {"values": [{}]}, "mark": {"type": "rect", "color": "#CFCFF4"},
      "encoding": {"x": {"datum": -93.3, "type": "quantitative", "scale": {"domain": [-220.67, -117.33], "nice": false, "zero": false}, "axis": null},
       "x2": {"datum": -59.3},
       "y": {"datum": 132.4, "type": "quantitative", "scale": {"domain": [-391.9, 140.5], "nice": false, "zero": false}, "axis": null},
       "y2": {"datum": -116.2}}},
     {"data": {"values": [{"s":-161,"e":-132.7},{"s":-126,"e":-57.3},{"s":-52.7,"e":16}]}, "mark": {"type": "rule", "color": "black", "strokeWidth": 1},
      "encoding": {"x": {"field": "s", "type": "quantitative", "axis": null}, "x2": {"field": "e"}, "y": {"datum": 0, "type": "quantitative", "axis": null}}},
     {"data": {"name": "mouse1"}, "mark": {"type": "rule", "color": "black", "strokeWidth": 1.2},
      "encoding": {"x": {"field": "kb", "type": "quantitative", "axis": null}, "y": {"field": "v", "type": "quantitative", "axis": null}, "y2": {"datum": 0}}},
     {"data": {"values": [{"s":-161,"e":-146},{"s":-0.7,"e":17.3}]}, "mark": {"type": "rule", "color": "#2B2BB0", "strokeWidth": 1},
      "encoding": {"x": {"field": "s", "type": "quantitative", "axis": null}, "x2": {"field": "e"}, "y": {"datum": 127, "type": "quantitative", "axis": null}}},
     {"data": {"values": [{"kb":-161},{"kb":-156},{"kb":-151},{"kb":-146},{"kb":-0.7},{"kb":4.7},{"kb":8.7},{"kb":12.7},{"kb":17.3}]}, "mark": {"type": "rule", "color": "#2B2BB0", "strokeWidth": 1},
      "encoding": {"x": {"field": "kb", "type": "quantitative", "axis": null}, "y": {"datum": 118, "type": "quantitative", "axis": null}, "y2": {"datum": 136}}},
     {"data": {"values": [{}]}, "mark": {"type": "text", "align": "left", "fontSize": 10, "color": "#2B2BB0"},
      "encoding": {"x": {"datum": -144.7, "type": "quantitative", "axis": null}, "y": {"datum": 127, "type": "quantitative", "axis": null}, "text": {"value": "Hbs1l"}}},
     {"data": {"values": [{}]}, "mark": {"type": "text", "align": "right", "fontSize": 10, "color": "#2B2BB0"},
      "encoding": {"x": {"datum": -2.7, "type": "quantitative", "axis": null}, "y": {"datum": 127, "type": "quantitative", "axis": null}, "text": {"value": "Myb"}}},
     {"data": {"values": [{}]}, "mark": {"type": "text", "align": "right", "fontSize": 7.5, "color": "#222"},
      "encoding": {"x": {"datum": -152.7, "type": "quantitative", "axis": null}, "y": {"datum": 148.6, "type": "quantitative", "axis": null}, "text": {"value": "chr10:"}}},
     {"data": {"values": [{}]}, "mark": {"type": "text", "align": "right", "fontSize": 6, "color": "#333"},
      "encoding": {"x": {"datum": -163.3, "type": "quantitative", "axis": null}, "y": {"datum": 100, "type": "quantitative", "axis": null}, "text": {"value": "100 -"}}},
     {"data": {"values": [{}]}, "mark": {"type": "text", "align": "right", "fontSize": 6, "color": "#333", "dy": -1},
      "encoding": {"x": {"datum": -163.3, "type": "quantitative", "axis": null}, "y": {"datum": 0, "type": "quantitative", "axis": null}, "text": {"value": "0 -"}}},
     {"data": {"values": [{}]}, "mark": {"type": "text", "align": "center", "fontSize": 9.5, "color": "black"},
      "encoding": {"x": {"datum": -76.7, "type": "quantitative", "axis": null}, "y": {"datum": 148.6, "type": "quantitative", "axis": null}, "text": {"value": "Conserved core"}}},
     {"data": {"values": [{}]}, "mark": {"type": "text", "align": "left", "fontSize": 12, "color": "black"},
      "encoding": {"x": {"datum": -162.7, "type": "quantitative", "axis": null}, "y": {"datum": 78, "type": "quantitative", "axis": null}, "text": {"value": "ldb1"}}},
     {"data": {"values": [{}]}, "mark": {"type": "text", "align": "right", "fontSize": 12, "color": "#E32D2D"},
      "encoding": {"x": {"datum": 16, "type": "quantitative", "axis": null}, "y": {"datum": 81, "type": "quantitative", "axis": null}, "text": {"value": "FL E13.5"}}},
     {"data": {"values": [{"kb":-115.3,"h":121.6},{"kb":-36,"h":105}]}, "mark": {"type": "text", "fontSize": 15, "fontWeight": "bold", "color": "#E32D2D", "dy": 4},
      "encoding": {"x": {"field": "kb", "type": "quantitative", "axis": null}, "y": {"field": "h", "type": "quantitative", "axis": null}, "text": {"value": "*"}}},
     {"data": {"values": [{}]}, "mark": {"type": "rule", "color": "black", "strokeWidth": 1.3},
      "encoding": {"x": {"datum": 26, "type": "quantitative", "axis": null}, "y": {"datum": 132.4, "type": "quantitative", "axis": null}, "y2": {"datum": -113.5}}},
     {"data": {"values": [{}]}, "mark": {"type": "rule", "color": "black", "strokeWidth": 1.3},
      "encoding": {"x": {"datum": 26, "type": "quantitative", "axis": null}, "x2": {"datum": 28.7}, "y": {"datum": 16.2, "type": "quantitative", "axis": null}}},
     {"data": {"values": [{}]}, "mark": {"type": "text", "align": "left", "fontSize": 12, "color": "black"},
      "encoding": {"x": {"datum": 30.5, "type": "quantitative", "axis": null}, "y": {"datum": 16.2, "type": "quantitative", "axis": null}, "text": {"value": "Mouse"}}},
     {"data": {"values": [{}]}, "mark": {"type": "text", "align": "left", "fontSize": 8.5, "color": "black"},
      "encoding": {"x": {"datum": 30.5, "type": "quantitative", "axis": null}, "y": {"datum": -16.2, "type": "quantitative", "axis": null}, "text": {"value": "(inverted)"}}}
   ]},
   {"layer": [
     {"data": {"values": [{"s":-161,"e":-132.7},{"s":-126,"e":-57.3},{"s":-52.7,"e":16}]}, "mark": {"type": "rule", "color": "black", "strokeWidth": 1},
      "encoding": {"x": {"field": "s", "type": "quantitative", "scale": {"domain": [-220.67, -117.33], "nice": false, "zero": false}, "axis": null}, "x2": {"field": "e"},
       "y": {"datum": 0, "type": "quantitative", "scale": {"domain": [-200.4, 182.9], "nice": false, "zero": false}, "axis": null}}},
     {"data": {"name": "mouse2"}, "mark": {"type": "rule", "color": "black", "strokeWidth": 1.2},
      "encoding": {"x": {"field": "kb", "type": "quantitative", "axis": null}, "y": {"field": "v", "type": "quantitative", "axis": null}, "y2": {"datum": 0}}},
     {"data": {"values": [{}]}, "mark": {"type": "text", "align": "right", "fontSize": 6, "color": "#333", "dy": 1},
      "encoding": {"x": {"datum": -163.3, "type": "quantitative", "axis": null}, "y": {"datum": 72, "type": "quantitative", "axis": null}, "text": {"value": "72 -"}}},
     {"data": {"values": [{}]}, "mark": {"type": "text", "align": "right", "fontSize": 6, "color": "#333"},
      "encoding": {"x": {"datum": -163.3, "type": "quantitative", "axis": null}, "y": {"datum": 0, "type": "quantitative", "axis": null}, "text": {"value": "0 -"}}},
     {"data": {"values": [{}]}, "mark": {"type": "text", "align": "left", "fontSize": 12, "color": "black"},
      "encoding": {"x": {"datum": -162.7, "type": "quantitative", "axis": null}, "y": {"datum": 56.4, "type": "quantitative", "axis": null}, "text": {"value": "ldb1"}}},
     {"data": {"values": [{}]}, "mark": {"type": "text", "align": "right", "fontSize": 12, "color": "#E32D2D"},
      "encoding": {"x": {"datum": 16, "type": "quantitative", "axis": null}, "y": {"datum": 58.4, "type": "quantitative", "axis": null}, "text": {"value": "MEL"}}}
   ]},
   {"layer": [
     {"data": {"values": [{}]}, "mark": {"type": "rect", "color": "#CFCFF4"},
      "encoding": {"x": {"datum": -88.2, "type": "quantitative", "scale": {"domain": [-185.05, -101.27], "nice": false, "zero": false}, "axis": null},
       "x2": {"datum": -61.2},
       "y": {"datum": 243, "type": "quantitative", "scale": {"domain": [-75.7, 709.3], "nice": false, "zero": false}, "axis": null},
       "y2": {"datum": 0}}},
     {"data": {"values": [{}]}, "mark": {"type": "rule", "strokeDash": [3, 2], "strokeWidth": 1, "color": "#333"},
      "encoding": {"x": {"datum": -88.3, "type": "quantitative", "axis": null}, "x2": {"datum": -81.8}, "y": {"datum": 243, "type": "quantitative", "axis": null}, "y2": {"datum": 331}}},
     {"data": {"values": [{}]}, "mark": {"type": "rule", "strokeDash": [3, 2], "strokeWidth": 1, "color": "#333"},
      "encoding": {"x": {"datum": -61.3, "type": "quantitative", "axis": null}, "x2": {"datum": -54.2}, "y": {"datum": 243, "type": "quantitative", "axis": null}, "y2": {"datum": 331}}},
     {"data": {"values": [{}]}, "mark": {"type": "rule", "color": "black", "strokeWidth": 1},
      "encoding": {"x": {"datum": -137.8, "type": "quantitative", "axis": null}, "x2": {"datum": 8.9}, "y": {"datum": 0, "type": "quantitative", "axis": null}}},
     {"data": {"name": "human"}, "mark": {"type": "rule", "color": "black", "strokeWidth": 1.2},
      "encoding": {"x": {"field": "kb", "type": "quantitative", "axis": null}, "y": {"field": "v", "type": "quantitative", "axis": null}, "y2": {"datum": 0}}},
     {"data": {"values": [{"s":-138,"e":-124.5},{"s":-1.3,"e":9}]}, "mark": {"type": "rule", "color": "#2B2BB0", "strokeWidth": 1},
      "encoding": {"x": {"field": "s", "type": "quantitative", "axis": null}, "x2": {"field": "e"}, "y": {"datum": 223, "type": "quantitative", "axis": null}}},
     {"data": {"values": [{"kb":-138},{"kb":-133.7},{"kb":-129.9},{"kb":-125.6},{"kb":-1.3},{"kb":1.4},{"kb":4.1},{"kb":6.3},{"kb":9}]}, "mark": {"type": "rule", "color": "#2B2BB0", "strokeWidth": 1},
      "encoding": {"x": {"field": "kb", "type": "quantitative", "axis": null}, "y": {"datum": 211, "type": "quantitative", "axis": null}, "y2": {"datum": 235}}},
     {"data": {"values": [{}]}, "mark": {"type": "rule", "color": "#2B2BB0", "strokeWidth": 1},
      "encoding": {"x": {"datum": -125.6, "type": "quantitative", "axis": null}, "y": {"datum": 223, "type": "quantitative", "axis": null}, "y2": {"datum": 247}}},
     {"data": {"values": [{}]}, "mark": {"type": "rule", "color": "#2B2BB0", "strokeWidth": 1},
      "encoding": {"x": {"datum": -125.6, "type": "quantitative", "axis": null}, "x2": {"datum": -128.6}, "y": {"datum": 247, "type": "quantitative", "axis": null}}},
     {"data": {"values": [{}]}, "mark": {"type": "rule", "color": "#2B2BB0", "strokeWidth": 1},
      "encoding": {"x": {"datum": -1.3, "type": "quantitative", "axis": null}, "y": {"datum": 223, "type": "quantitative", "axis": null}, "y2": {"datum": 251}}},
     {"data": {"values": [{}]}, "mark": {"type": "rule", "color": "#2B2BB0", "strokeWidth": 1},
      "encoding": {"x": {"datum": -1.3, "type": "quantitative", "axis": null}, "x2": {"datum": 2}, "y": {"datum": 251, "type": "quantitative", "axis": null}}},
     {"data": {"values": [{}]}, "mark": {"type": "text", "align": "left", "fontSize": 10, "color": "#2B2BB0"},
      "encoding": {"x": {"datum": -123.4, "type": "quantitative", "axis": null}, "y": {"datum": 223, "type": "quantitative", "axis": null}, "text": {"value": "HBS1L"}}},
     {"data": {"values": [{}]}, "mark": {"type": "text", "align": "right", "fontSize": 10, "color": "#2B2BB0"},
      "encoding": {"x": {"datum": -2.9, "type": "quantitative", "axis": null}, "y": {"datum": 223, "type": "quantitative", "axis": null}, "text": {"value": "MYB"}}},
     {"data": {"values": [{}]}, "mark": {"type": "text", "align": "right", "fontSize": 7.5, "color": "#222"},
      "encoding": {"x": {"datum": -129.9, "type": "quantitative", "axis": null}, "y": {"datum": 299, "type": "quantitative", "axis": null}, "text": {"value": "chr6:"}}},
     {"data": {"values": [{}]}, "mark": {"type": "text", "align": "right", "fontSize": 6, "color": "#333"},
      "encoding": {"x": {"datum": -138.6, "type": "quantitative", "axis": null}, "y": {"datum": 263, "type": "quantitative", "axis": null}, "text": {"value": "263 -"}}},
     {"data": {"values": [{}]}, "mark": {"type": "text", "align": "right", "fontSize": 6, "color": "#333"},
      "encoding": {"x": {"datum": -138.6, "type": "quantitative", "axis": null}, "y": {"datum": 0, "type": "quantitative", "axis": null}, "text": {"value": "0 -"}}},
     {"data": {"values": [{}]}, "mark": {"type": "text", "align": "left", "fontSize": 12, "color": "black"},
      "encoding": {"x": {"datum": -138, "type": "quantitative", "axis": null}, "y": {"datum": 163, "type": "quantitative", "axis": null}, "text": {"value": "LDB1"}}},
     {"data": {"values": [{}]}, "mark": {"type": "text", "align": "right", "fontSize": 12, "color": "#E32D2D"},
      "encoding": {"x": {"datum": 4.7, "type": "quantitative", "axis": null}, "y": {"datum": 159, "type": "quantitative", "axis": null}, "text": {"value": "HEP"}}},
     {"data": {"values": [{"kb":-106,"h":124},{"kb":-91,"h":84},{"kb":-79.8,"h":88},{"kb":-7.8,"h":36}]}, "mark": {"type": "text", "fontSize": 15, "fontWeight": "bold", "color": "#E32D2D", "dy": 4},
      "encoding": {"x": {"field": "kb", "type": "quantitative", "axis": null}, "y": {"field": "h", "type": "quantitative", "axis": null}, "text": {"value": "*"}}},
     {"data": {"values": [{"kb":-81.6,"h":36},{"kb":-79.8,"h":58},{"kb":-77.7,"h":36}]}, "mark": {"type": "line", "color": "#E32D2D", "strokeWidth": 1.3},
      "encoding": {"x": {"field": "kb", "type": "quantitative", "axis": null}, "y": {"field": "h", "type": "quantitative", "axis": null}}},
     {"data": {"name": "humanSites"}, "mark": {"type": "point", "filled": true, "size": 30, "color": "#22C6E6", "opacity": 1},
      "encoding": {"x": {"field": "kb", "type": "quantitative", "axis": null}, "y": {"datum": -24, "type": "quantitative", "axis": null}}},
     {"data": {"name": "humanSites"}, "transform": [{"filter": "datum.lab == '-87'"}], "mark": {"type": "text", "fontSize": 7.5, "color": "black", "dx": -4},
      "encoding": {"x": {"field": "kb", "type": "quantitative", "axis": null}, "y": {"datum": -56, "type": "quantitative", "axis": null}, "text": {"field": "lab"}}},
     {"data": {"name": "humanSites"}, "transform": [{"filter": "datum.lab == '-84'"}], "mark": {"type": "text", "fontSize": 7.5, "color": "black", "dx": 4},
      "encoding": {"x": {"field": "kb", "type": "quantitative", "axis": null}, "y": {"datum": -56, "type": "quantitative", "axis": null}, "text": {"field": "lab"}}},
     {"data": {"name": "humanSites"}, "transform": [{"filter": "datum.lab == '-71' || datum.lab == '-63'"}], "mark": {"type": "text", "fontSize": 7.5, "color": "black"},
      "encoding": {"x": {"field": "kb", "type": "quantitative", "axis": null}, "y": {"datum": -56, "type": "quantitative", "axis": null}, "text": {"field": "lab"}}},
     {"data": {"values": [{}]}, "mark": {"type": "rule", "color": "black", "strokeWidth": 1.3},
      "encoding": {"x": {"datum": 15, "type": "quantitative", "axis": null}, "y": {"datum": 271, "type": "quantitative", "axis": null}, "y2": {"datum": 0}}},
     {"data": {"values": [{}]}, "mark": {"type": "rule", "color": "black", "strokeWidth": 1.3},
      "encoding": {"x": {"datum": 15, "type": "quantitative", "axis": null}, "x2": {"datum": 17.2}, "y": {"datum": 131.5, "type": "quantitative", "axis": null}}},
     {"data": {"values": [{}]}, "mark": {"type": "text", "align": "left", "fontSize": 12, "color": "black"},
      "encoding": {"x": {"datum": 18.6, "type": "quantitative", "axis": null}, "y": {"datum": 131.5, "type": "quantitative", "axis": null}, "text": {"value": "Human"}}}
   ]}
  ]},
 {"width":1,"height":1,"data":{"values":[{}]},"mark":"text","encoding":{"text":{"value":""}}},
 {"width":1,"height":1,"data":{"values":[{}]},"mark":"text","encoding":{"text":{"value":""}}},
 {"width":1,"height":1,"data":{"values":[{}]},"mark":"text","encoding":{"text":{"value":""}}},
 {"width":1,"height":1,"data":{"values":[{}]},"mark":"text","encoding":{"text":{"value":""}}}
]
}
